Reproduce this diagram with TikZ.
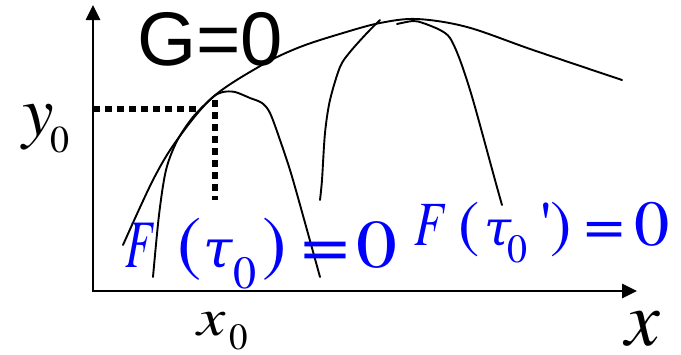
\documentclass[tikz,border=0pt]{standalone}
\usepackage{fontspec}
\setmainfont{texgyretermes}[Extension=.otf,UprightFont=*-regular,ItalicFont=*-italic,BoldFont=*-bold,BoldItalicFont=*-bolditalic]
\newfontfamily\sansG{Liberation Sans}
\newfontfamily\greekf{DejaVu Serif}
\usetikzlibrary{arrows.meta}
\definecolor{fblue}{RGB}{0,0,255}
\newcommand\fs[1]{\fontsize{#1}{#1}\selectfont}
\begin{document}
\begin{tikzpicture}[x=1pt,y=-1pt,
  lbl/.style={inner sep=0pt,outer sep=0pt,anchor=base},
  flbl/.style={lbl,text=fblue},
  axis/.style={line width=2.6pt,{Triangle[length=15pt,width=14pt]}-{Triangle[length=15pt,width=14pt]}},
  curve/.style={line width=1.9pt,line join=round,line cap=round},
  guide/.style={line width=5.5pt,dash pattern=on 6.5pt off 5.5pt}]
\useasboundingbox (0,0) rectangle (681,354);
% axes
\coordinate (ytop) at (93,5);
\coordinate (org) at (93,291);
\coordinate (xend) at (637,291);
\draw[axis] (ytop) -- (org) -- (xend);
% G = 0 envelope
\draw[curve] plot[smooth,tension=0.55] coordinates {(123,245) (153,180) (177,140) (213,97) (262,65) (300,47) (343,33) (380,23) (417,19) (467,27) (533,50) (622,80)};
% first hump
\draw[curve] plot[smooth,tension=0.5] coordinates {(153,277) (159,215) (166,170) (177,141) (193,117) (213,97) (223,92) (235,92) (250,98) (262,103) (270,113) (280,140) (293,180) (320,277)};
% second hump
\draw[curve] plot[smooth,tension=0.5] coordinates {(320,200) (322,180) (325,133) (330,100) (340,67) (350,52) (367,33) (380,20)};
\draw[curve] plot[smooth,tension=0.5] coordinates {(397,24) (413,21) (423,23) (440,30) (450,38) (460,60) (473,100) (495,180) (502,205)};
% dotted guides
\coordinate (y0l) at (93,109);
\coordinate (y0r) at (197,109);
\coordinate (x0t) at (215,100);
\coordinate (x0b) at (215,200);
\draw[guide] (y0l) -- (y0r);
\draw[guide] (x0t) -- (x0b);
% labels
\node[lbl,anchor=base west,font=\sansG\fs{76}] (G) at (137,65) {G=0};
\node[lbl,font=\fs{71}\itshape] (ly) at (38,135) {y};
\node[lbl,font=\fs{38}] (ly0) at (60,152) {0};
\node[lbl,font=\fs{53}\itshape] (lx0) at (212,335) {\scalebox{1.2}[1]{x}};
\node[lbl,font=\fs{37}] (lx00) at (239,349) {0};
\node[lbl,font=\fs{78}\itshape] (lx) at (643,345) {x};
% F(tau_0)=0
\node[flbl,font=\fs{68}\itshape] (a1) at (139,267) {\scalebox{0.66}[1]{F}};
\node[flbl,font=\fs{73}] (a2) at (190,267) {(};
\node[flbl,font=\greekf\fs{53}\itshape] (a3) at (218,267) {τ};
\node[flbl,font=\fs{46}] (a4) at (245,288) {0};
\node[flbl,font=\fs{73}] (a5) at (275,267) {)};
\node[flbl,font=\fs{72}] (a6) at (325,268) {\scalebox{1.18}[1]{=}};
\node[flbl,font=\fs{68}] (a7) at (377,267) {\scalebox{1.2}[1]{0}};
% F(tau_0')=0
\node[flbl,font=\fs{63}\itshape] (b1) at (429,245) {\scalebox{0.77}[1]{F}};
\node[flbl,font=\fs{64}] (b2) at (469,245) {(};
\node[flbl,font=\greekf\fs{49}\itshape] (b3) at (498,245) {τ};
\node[flbl,font=\fs{40}] (b4) at (517,262) {0};
\node[flbl,font=\fs{63}] (b5) at (546,245) {\textquotesingle};
\node[flbl,font=\fs{64}] (b6) at (561,245) {)};
\node[flbl,font=\fs{63}] (b7) at (605,245) {\scalebox{1.13}[1]{=}};
\node[flbl,font=\fs{64}] (b8) at (652,245) {\scalebox{1.1}[1]{0}};
\end{tikzpicture}
\end{document}
